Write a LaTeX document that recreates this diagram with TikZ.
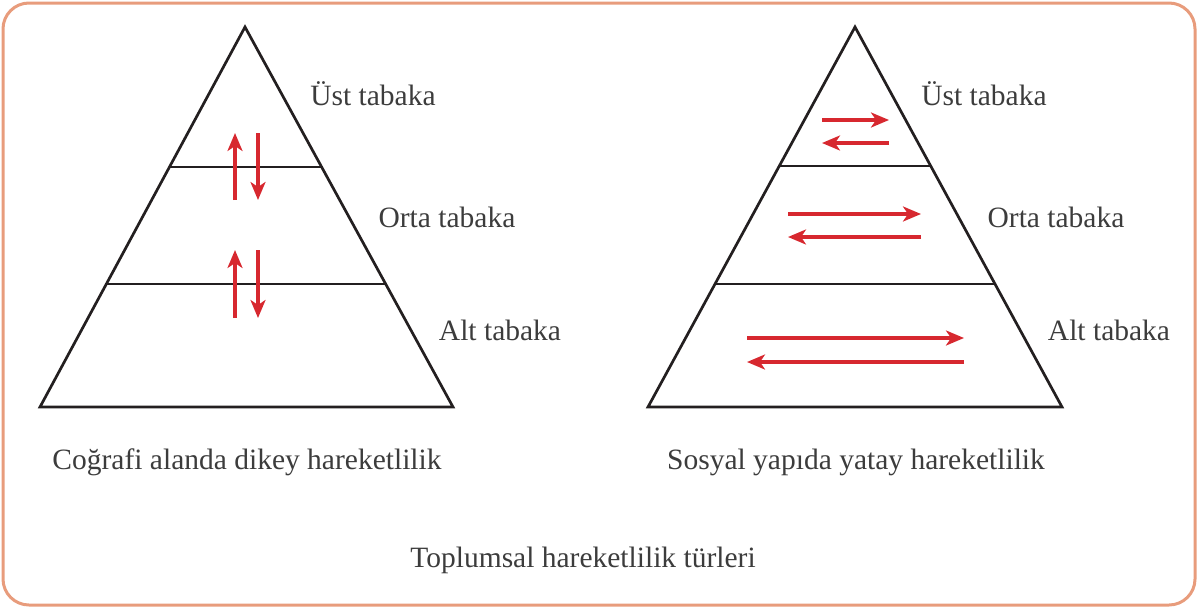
\documentclass[tikz,border=0pt]{standalone}
\usepackage{fontspec}
\setmainfont{Liberation Serif}
\usetikzlibrary{arrows.meta}
\definecolor{frame}{HTML}{E89C7C}
\definecolor{arrred}{HTML}{D7282F}
\definecolor{txt}{HTML}{3C3C3C}
\definecolor{ink}{HTML}{231F20}
\begin{document}
\begin{tikzpicture}[x=1pt,y=-1pt,
  pyr/.style={draw=ink,line width=2.7pt,line join=miter},
  layer/.style={draw=ink,line width=2.7pt},
  mv/.style={draw=arrred,line width=3.1pt,-{Stealth[length=18pt,width=15pt,inset=5pt]}},
  lbl/.style={text=txt,font=\fontsize{29.5}{34}\selectfont,inner sep=0pt}]
\useasboundingbox (0,0) rectangle (1198,608);
\draw[draw=frame,line width=3pt,rounded corners=26pt] (3,3) rectangle (1195,605);
% left pyramid
\coordinate (LA) at (245,27);
\coordinate (LB) at (40,407);
\coordinate (LC) at (453,407);
\draw[pyr] (LA) -- (LB) -- (LC) -- cycle;
\coordinate (L1a) at (169.5,167);
\coordinate (L1b) at (321.6,167);
\coordinate (L2a) at (106.3,284);
\coordinate (L2b) at (385.6,284);
\draw[layer] (L1a) -- (L1b);
\draw[layer] (L2a) -- (L2b);
\coordinate (u1s) at (235,200); \coordinate (u1e) at (235,133);
\coordinate (d1s) at (258,133); \coordinate (d1e) at (258,200);
\coordinate (u2s) at (235,318); \coordinate (u2e) at (235,250);
\coordinate (d2s) at (258,250); \coordinate (d2e) at (258,318);
\draw[mv] (u1s) -- (u1e);
\draw[mv] (d1s) -- (d1e);
\draw[mv] (u2s) -- (u2e);
\draw[mv] (d2s) -- (d2e);
\node[lbl] (l1) at (373,94) {Üst tabaka};
\node[lbl] (l2) at (447,217) {Orta tabaka};
\node[lbl] (l3) at (500,330) {Alt tabaka};
\node[lbl] (lc) at (247,462) {Coğrafi alanda dikey hareketlilik};
% right pyramid
\coordinate (RA) at (855,27);
\coordinate (RB) at (648,407);
\coordinate (RC) at (1062,407);
\draw[pyr] (RA) -- (RB) -- (RC) -- cycle;
\coordinate (R1a) at (779.3,166);
\coordinate (R1b) at (931.1,166);
\coordinate (R2a) at (715.3,284);
\coordinate (R2b) at (995.4,284);
\draw[layer] (R1a) -- (R1b);
\draw[layer] (R2a) -- (R2b);
\coordinate (h1s) at (822,120); \coordinate (h1e) at (889,120);
\coordinate (g1s) at (889,143); \coordinate (g1e) at (822,143);
\coordinate (h2s) at (788,214); \coordinate (h2e) at (921,214);
\coordinate (g2s) at (921,237); \coordinate (g2e) at (788,237);
\coordinate (h3s) at (747,338); \coordinate (h3e) at (964,338);
\coordinate (g3s) at (964,362); \coordinate (g3e) at (747,362);
\draw[mv] (h1s) -- (h1e);
\draw[mv] (g1s) -- (g1e);
\draw[mv] (h2s) -- (h2e);
\draw[mv] (g2s) -- (g2e);
\draw[mv] (h3s) -- (h3e);
\draw[mv] (g3s) -- (g3e);
\node[lbl] (r1) at (984,94) {Üst tabaka};
\node[lbl] (r2) at (1056,217) {Orta tabaka};
\node[lbl] (r3) at (1109,330) {Alt tabaka};
\node[lbl] (rc) at (856,462) {Sosyal yapıda yatay hareketlilik};
\node[lbl] (title) at (583,560) {Toplumsal hareketlilik türleri};
\end{tikzpicture}
\end{document}
